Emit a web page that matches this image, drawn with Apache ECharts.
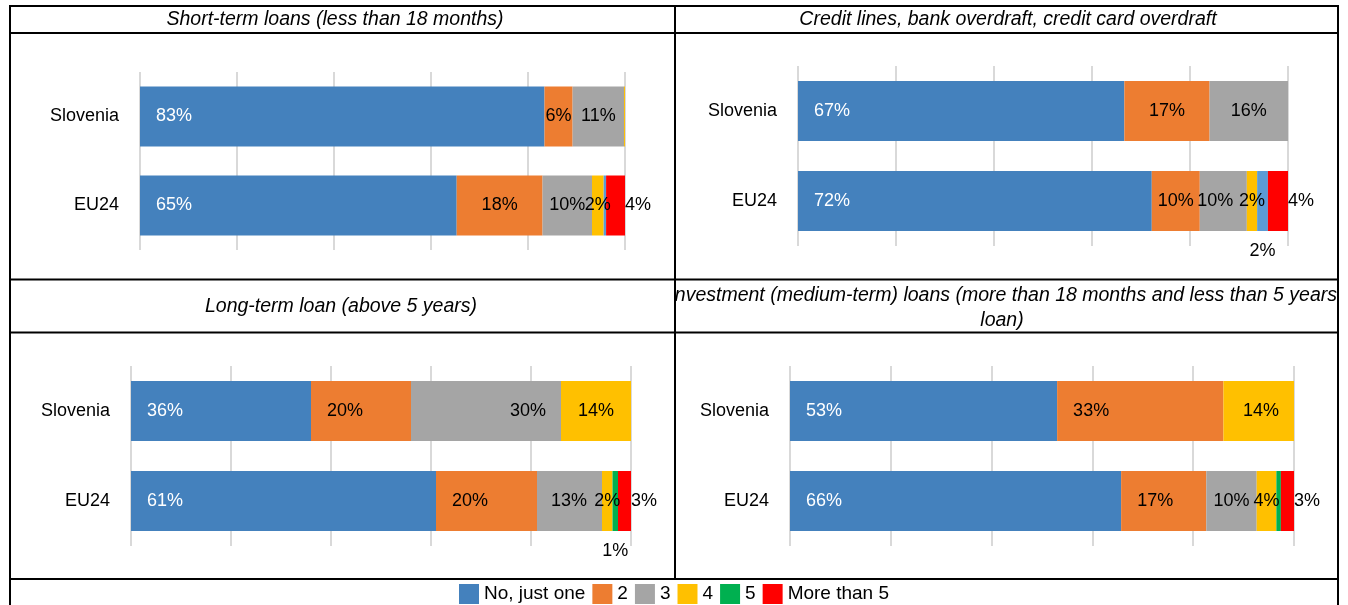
<!DOCTYPE html>
<html>
<head>
<meta charset="utf-8">
<script src="https://cdn.jsdelivr.net/npm/echarts@6/dist/echarts.min.js"></script>
<style>
  html, body { margin: 0; padding: 0; background: #fff; }
  #chart { width: 1348px; height: 605px; }
</style>
</head>
<body>
<div id="chart"></div>
<script>
// categories (rows) and stacks
const categories = ['Slovenia', 'EU24'];
const seriesNames = ['No, just one', '2', '3', '4', '5', 'More than 5'];
const colors = ['#4481bd', '#ed7d31', '#a5a5a5', '#ffc000', '#00b050', '#ff0000'];

// values in %, one row per answer, [Slovenia, EU24]
const shortTerm = [[83.4, 65.3], [5.8, 17.7], [10.6, 10.2], [0.2, 2.4], [0, 0.5], [0, 3.9]];
const creditLines = [[66.6, 72.2], [17.4, 9.8], [16.0, 9.6], [0, 2.1], [0, 2.2], [0, 4.1]];
const longTerm = [[36, 61], [20, 20.2], [30, 13], [14, 2.1], [0, 1.1], [0, 2.6]];
const investment = [[53, 65.7], [33, 16.9], [0, 10], [14, 3.9], [0, 0.9], [0, 2.6]];

const panelData = [shortTerm, creditLines, longTerm, investment];
const xTicks = { min: 0, max: 100, interval: 20 };

const FONT = '"Liberation Sans", Arial, sans-serif';

// grid boxes of the four panels
const grids = [
  { left: 140, width: 485, top: 72, height: 178 },
  { left: 798, width: 490, top: 66, height: 180 },
  { left: 131, width: 500, top: 366, height: 180 },
  { left: 790, width: 504, top: 366, height: 180 },
];

// where each series puts its label, per panel
const labelPlacement = [
  ['insideLeft', 'inside', 'inside', 'inside', 'bottom', 'right'],
  ['insideLeft', 'inside', 'inside', 'inside', 'bottom', 'right'],
  ['insideLeft', 'insideLeft', 'insideRight', 'inside', 'bottom', 'right'],
  ['insideLeft', 'insideLeft', 'inside', 'insideRight', 'bottom', 'right'],
];
const distances = { insideLeft: 16, insideRight: 15, bottom: 11, right: 0, inside: 0 };

function makeLabel(p, s, v) {
  let pos = labelPlacement[p][s];
  if (v < 6 && (pos === 'insideLeft' || pos === 'insideRight')) pos = 'inside';
  const lbl = {
    show: v >= 1,
    position: pos,
    distance: distances[pos],
    color: s === 0 ? '#fff' : '#000',
  };
  // gray label of EU24 credit lines sits a bit to the left
  if (p === 1 && s === 2 && v < 12) lbl.offset = [-8, 0];
  return lbl;
}

const series = [];
panelData.forEach((rows, p) => {
  rows.forEach((vals, s) => {
    series.push({
      name: seriesNames[s],
      type: 'bar',
      stack: 'p' + p,
      xAxisIndex: p,
      yAxisIndex: p,
      barWidth: 60,
      itemStyle: { color: colors[s] },
      label: {
        fontSize: 18,
        fontFamily: FONT,
        formatter: (d) => Math.round(d.value) + '%',
      },
      emphasis: { disabled: true },
      data: vals.map((v, r) => {
        const item = { value: v, label: makeLabel(p, s, v) };
        if (p === 1 && s === 2 && r === 0) delete item.label.offset;
        // the "5" slivers are drawn light blue in the upper panels
        if (s === 4 && p < 2) item.itemStyle = { color: '#5b9bd5' };
        return item;
      }),
    });
  });
});

const lineStyle = { stroke: '#000', lineWidth: 2 };
function hline(y, x1, x2) {
  return { type: 'line', z: 100, shape: { x1, y1: y, x2, y2: y }, style: lineStyle };
}
function vline(x, y1, y2) {
  return { type: 'line', z: 100, shape: { x1: x, y1, x2: x, y2 }, style: lineStyle };
}
function title(text, x, y, align, z) {
  return {
    type: 'text', x, y, z: z || 10,
    style: {
      text, fill: '#000', align: align || 'center', verticalAlign: 'middle',
      font: 'italic 19.5px ' + FONT,
    },
  };
}

const graphic = [
  hline(6, 9, 1339),
  hline(33, 9, 1339),
  hline(279.5, 9, 1339),
  hline(332.5, 9, 1339),
  hline(579, 9, 1339),
  vline(10, 5, 605),
  vline(1338, 5, 605),
  vline(675, 5, 580),
  title('Short-term loans (less than 18 months)', 335, 20),
  title('Credit lines, bank overdraft, credit card overdraft', 1008, 20),
  title('Investment (medium-term) loans (more than 18 months and less than 5 years', 1337, 296, 'right', 5),
  title('loan)', 1002, 321),
  // left title cell hides the overflow of the long title
  { type: 'rect', z: 8, shape: { x: 11, y: 281, width: 663, height: 50 }, style: { fill: '#fff' } },
  title('Long-term loan (above 5 years)', 341, 307, 'center', 12),
];

const option = {
  animation: false,
  textStyle: { fontFamily: FONT },
  legend: {
    data: seriesNames,
    left: 'center',
    top: 584,
    padding: 0,
    icon: 'rect',
    itemWidth: 20,
    itemHeight: 20,
    itemGap: 7,
    selectedMode: false,
    textStyle: { fontSize: 19, color: '#000', fontFamily: FONT },
  },
  grid: grids,
  xAxis: grids.map((g, i) => ({
    type: 'value',
    gridIndex: i,
    min: xTicks.min,
    max: xTicks.max,
    interval: xTicks.interval,
    axisLabel: { show: false },
    axisTick: { show: false },
    axisLine: { show: false },
    splitLine: { show: true, lineStyle: { color: '#d9d9d9', width: 2 } },
  })),
  yAxis: grids.map((g, i) => ({
    type: 'category',
    gridIndex: i,
    inverse: true,
    data: categories,
    axisLine: { show: false },
    axisTick: { show: false },
    axisLabel: { fontSize: 18, color: '#000', margin: 21, fontFamily: FONT },
  })),
  graphic,
  series,
};

const chart = echarts.init(document.getElementById('chart'));
chart.setOption(option);
</script>
</body>
</html>
